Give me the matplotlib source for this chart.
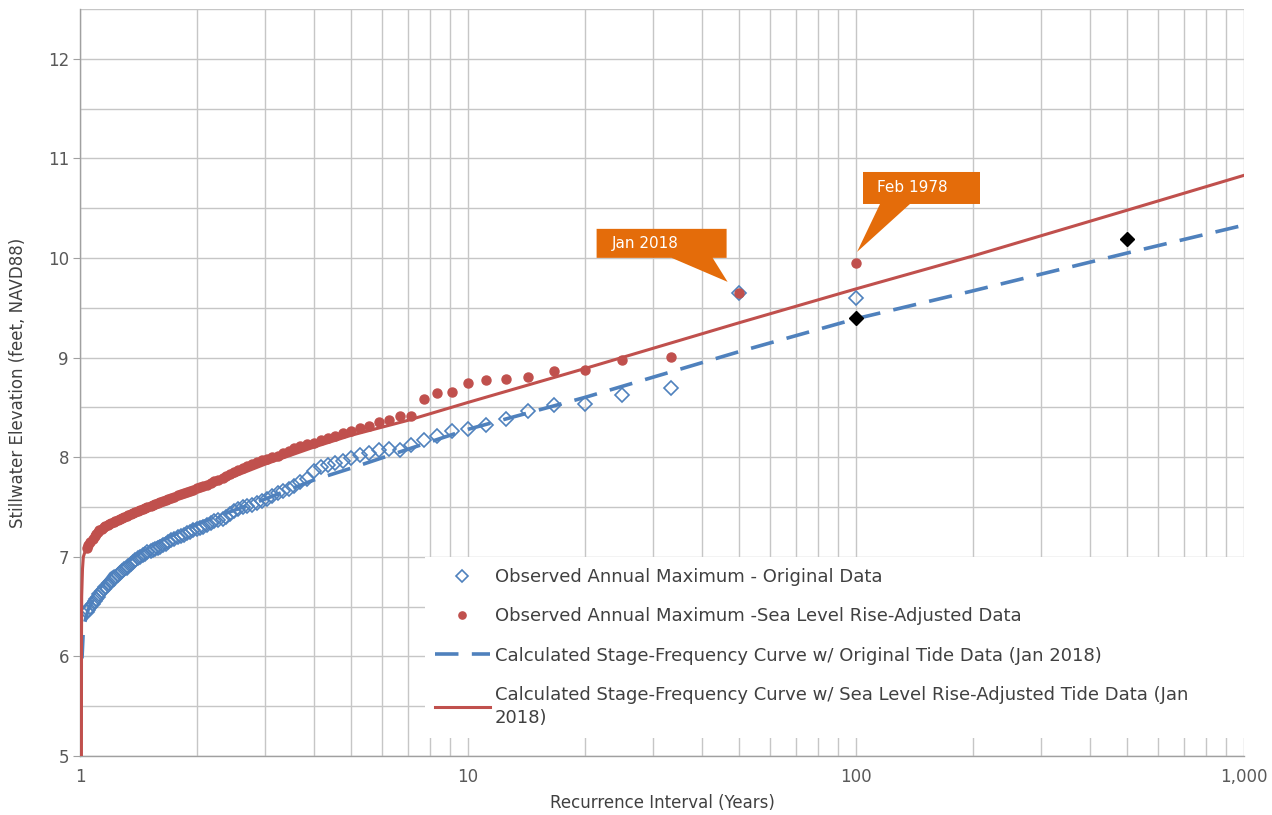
import matplotlib
matplotlib.use("Agg")
import matplotlib.pyplot as plt
from matplotlib.patches import Polygon
from matplotlib.transforms import IdentityTransform
from matplotlib.ticker import FixedLocator, MultipleLocator, FuncFormatter, NullFormatter

plt.rcParams['font.family'] = ['DejaVu Sans']

# recurrence interval of each ranked annual maximum (years)
ranked_years = [100, 50, 33.3, 25, 20, 16.7, 14.3, 12.5, 11.1, 10,
                9.09, 8.33, 7.69, 7.14, 6.67, 6.25, 5.88, 5.56, 5.26, 5.00,
                4.76, 4.55, 4.35, 4.17, 4.00, 3.85, 3.70, 3.57, 3.45, 3.33,
                3.23, 3.13, 3.03, 2.94, 2.86, 2.78, 2.70, 2.63, 2.56, 2.50,
                2.44, 2.38, 2.33, 2.27, 2.22, 2.17, 2.13, 2.08, 2.04, 2.00,
                1.96, 1.92, 1.89, 1.85, 1.82, 1.79, 1.75, 1.72, 1.69, 1.67,
                1.64, 1.61, 1.59, 1.56, 1.54, 1.52, 1.49, 1.47, 1.45, 1.43,
                1.41, 1.39, 1.37, 1.35, 1.33, 1.32, 1.30, 1.28, 1.27, 1.25,
                1.23, 1.22, 1.20, 1.19, 1.18, 1.16, 1.15, 1.14, 1.12, 1.11,
                1.10, 1.09, 1.08, 1.06, 1.05, 1.04]

# observed annual maxima, original data (ft NAVD88)
obs_original = [9.60, 9.65, 8.69, 8.62, 8.53, 8.52, 8.46, 8.38, 8.32, 8.28,
                8.26, 8.21, 8.17, 8.12, 8.07, 8.08, 8.07, 8.04, 8.02, 7.99,
                7.96, 7.94, 7.92, 7.90, 7.86, 7.78, 7.75, 7.71, 7.68, 7.66,
                7.64, 7.61, 7.58, 7.56, 7.54, 7.52, 7.51, 7.50, 7.48, 7.46,
                7.43, 7.40, 7.38, 7.37, 7.36, 7.34, 7.32, 7.30, 7.29, 7.28,
                7.27, 7.25, 7.24, 7.22, 7.21, 7.20, 7.18, 7.17, 7.15, 7.13,
                7.12, 7.10, 7.09, 7.08, 7.07, 7.06, 7.05, 7.03, 7.02, 7.00,
                6.99, 6.97, 6.95, 6.93, 6.91, 6.89, 6.88, 6.86, 6.84, 6.82,
                6.80, 6.78, 6.76, 6.74, 6.72, 6.70, 6.68, 6.66, 6.63, 6.60,
                6.58, 6.56, 6.53, 6.50, 6.47, 6.45]

# observed annual maxima, sea level rise-adjusted
obs_adjusted = [9.95, 9.65, 9.01, 8.98, 8.88, 8.87, 8.81, 8.79, 8.78, 8.75,
                8.65, 8.64, 8.58, 8.41, 8.41, 8.37, 8.35, 8.31, 8.29, 8.26,
                8.24, 8.21, 8.19, 8.17, 8.14, 8.13, 8.11, 8.09, 8.06, 8.04,
                8.01, 8.00, 7.98, 7.97, 7.95, 7.93, 7.91, 7.89, 7.87, 7.85,
                7.83, 7.81, 7.79, 7.77, 7.76, 7.74, 7.72, 7.71, 7.70, 7.69,
                7.67, 7.66, 7.65, 7.64, 7.63, 7.62, 7.60, 7.59, 7.58, 7.57,
                7.56, 7.55, 7.54, 7.53, 7.52, 7.51, 7.50, 7.49, 7.48, 7.47,
                7.46, 7.45, 7.44, 7.43, 7.42, 7.41, 7.40, 7.39, 7.38, 7.37,
                7.36, 7.35, 7.34, 7.33, 7.32, 7.31, 7.30, 7.28, 7.27, 7.25,
                7.23, 7.21, 7.18, 7.15, 7.12, 7.09]

# calculated stage-frequency curves
curve_orig_years = [1.012, 1.018, 1.025, 1.05, 1.1, 1.2, 1.5, 2, 3, 4, 5, 7,
                    10, 20, 50, 100, 200, 500, 1000]
curve_orig_values = [5.98, 6.20, 6.32, 6.47, 6.63, 6.83, 7.10, 7.33, 7.58, 7.77,
                     7.89, 8.08, 8.28, 8.60, 9.06, 9.39, 9.67, 10.05, 10.33]
curve_adj_years = [1.0085, 1.009, 1.01, 1.015, 1.02, 1.04, 1.1, 1.2, 1.5, 2, 3, 4,
                   5, 7, 10, 20, 50, 100, 200, 500, 1000]
curve_adj_values = [4.90, 6.20, 6.60, 6.88, 7.00, 7.10, 7.24, 7.33, 7.50, 7.66,
                    7.93, 8.10, 8.22, 8.37, 8.55, 8.89, 9.35, 9.69, 10.02, 10.48, 10.83]

# black diamonds
marked_years = [100, 500]
marked_values = [9.40, 10.19]

blue = "#4F81BD"
red = "#C0504D"
orange = "#E46C0A"
grid_c = "#C6C6C6"
text_c = "#404040"

fig = plt.figure(figsize=(12.72, 8.15), dpi=100)
ax = fig.add_axes([80/1272, 1-756/815, 1164/1272, 747/815])

ax.plot(ranked_years, obs_original, linestyle="none", marker="D", markersize=7.5,
        markerfacecolor="none", markeredgecolor=blue, markeredgewidth=1.2,
        label="Observed Annual Maximum - Original Data", zorder=3)
ax.plot(ranked_years, obs_adjusted, linestyle="none", marker="o", markersize=6.5,
        color=red, label="Observed Annual Maximum -Sea Level Rise-Adjusted Data", zorder=4)
ax.plot(curve_orig_years, curve_orig_values, color=blue, lw=2.6, dashes=(6.5, 3.7),
        label="Calculated Stage-Frequency Curve w/ Original Tide Data (Jan 2018)", zorder=5)
ax.plot(curve_adj_years, curve_adj_values, color=red, lw=2.2,
        label="Calculated Stage-Frequency Curve w/ Sea Level Rise-Adjusted Tide Data (Jan\n2018)",
        zorder=5)
ax.plot(marked_years, marked_values, linestyle="none", marker="D", markersize=7.5,
        color="black", zorder=6)

ax.set_xscale("log")
ax.set_xlim(1, 1000)
ax.set_ylim(5, 12.5)
ax.xaxis.set_major_locator(FixedLocator([1, 10, 100, 1000]))
ax.xaxis.set_major_formatter(FuncFormatter(lambda v, p: "{:,.0f}".format(v)))
ax.xaxis.set_minor_formatter(NullFormatter())
ax.yaxis.set_major_locator(MultipleLocator(1))
ax.yaxis.set_minor_locator(MultipleLocator(0.5))
ax.yaxis.set_major_formatter(FuncFormatter(lambda v, p: "" if v > 12 else "%d" % v))

ax.grid(True, which="both", color=grid_c, lw=1.0)
ax.set_axisbelow(True)
for s in ["top", "right"]:
    ax.spines[s].set_visible(False)
for s in ["left", "bottom"]:
    ax.spines[s].set_color("#A0A0A0")
    ax.spines[s].set_linewidth(1.0)

ax.tick_params(axis="x", which="both", length=0, pad=9, labelsize=12, labelcolor="#595959")
ax.tick_params(axis="y", which="major", length=5, color="#A0A0A0", pad=3, labelsize=12,
               labelcolor="#595959")
ax.tick_params(axis="y", which="minor", length=0)

ax.set_xlabel("Recurrence Interval (Years)", fontsize=12, color=text_c)
ax.set_ylabel("Stillwater Elevation (feet, NAVD88)", fontsize=12, color=text_c)
ax.xaxis.set_label_coords(0.5, -0.063)
ax.xaxis.label.set_va("center")
ax.yaxis.set_label_coords(-0.053, 0.5)
ax.yaxis.label.set_va("center")

leg = ax.legend(loc="upper left", bbox_to_anchor=(0.296, 0.02, 0.704, 0.246),
                mode="expand", borderaxespad=0, fontsize=13, frameon=True,
                fancybox=False, edgecolor="none", facecolor="white", framealpha=1,
                handlelength=3.0, handletextpad=0.3, labelspacing=1.18, numpoints=1,
                markerscale=0.8, borderpad=0.6)
for t in leg.get_texts():
    t.set_color(text_c)
    t.set_linespacing(1.35)
leg.set_zorder(7)


# callouts: box + pointer drawn in pixels relative to the annotated point
def callout(x, y, text, box, base, tip, text_at):
    px, py = ax.transData.transform((x, y))
    l, r, b, t = box
    verts = [(l, t), (r, t), (r, b), (base[1], b), tip, (base[0], b), (l, b)]
    verts = [(px + dx, py + dy) for dx, dy in verts]
    ax.add_patch(Polygon(verts, closed=True, transform=IdentityTransform(),
                         fc=orange, ec="none", zorder=8))
    ax.annotate(text, xy=(x, y), xytext=(text_at[0] * 0.72, text_at[1] * 0.72),
                textcoords="offset points", ha="left", va="center",
                fontsize=11, color="white", zorder=9)


callout(ranked_years[1], obs_adjusted[1], "Jan 2018",
        box=(-142.6, -12.6, 35, 64), base=(-67.6, -26.6), tip=(-11.6, 11),
        text_at=(-127.6, 49.5))
callout(ranked_years[0], obs_adjusted[0], "Feb 1978",
        box=(7, 124, 59, 91), base=(24, 54), tip=(1, 11),
        text_at=(21, 75))

fig.savefig("out.png", dpi=100)
